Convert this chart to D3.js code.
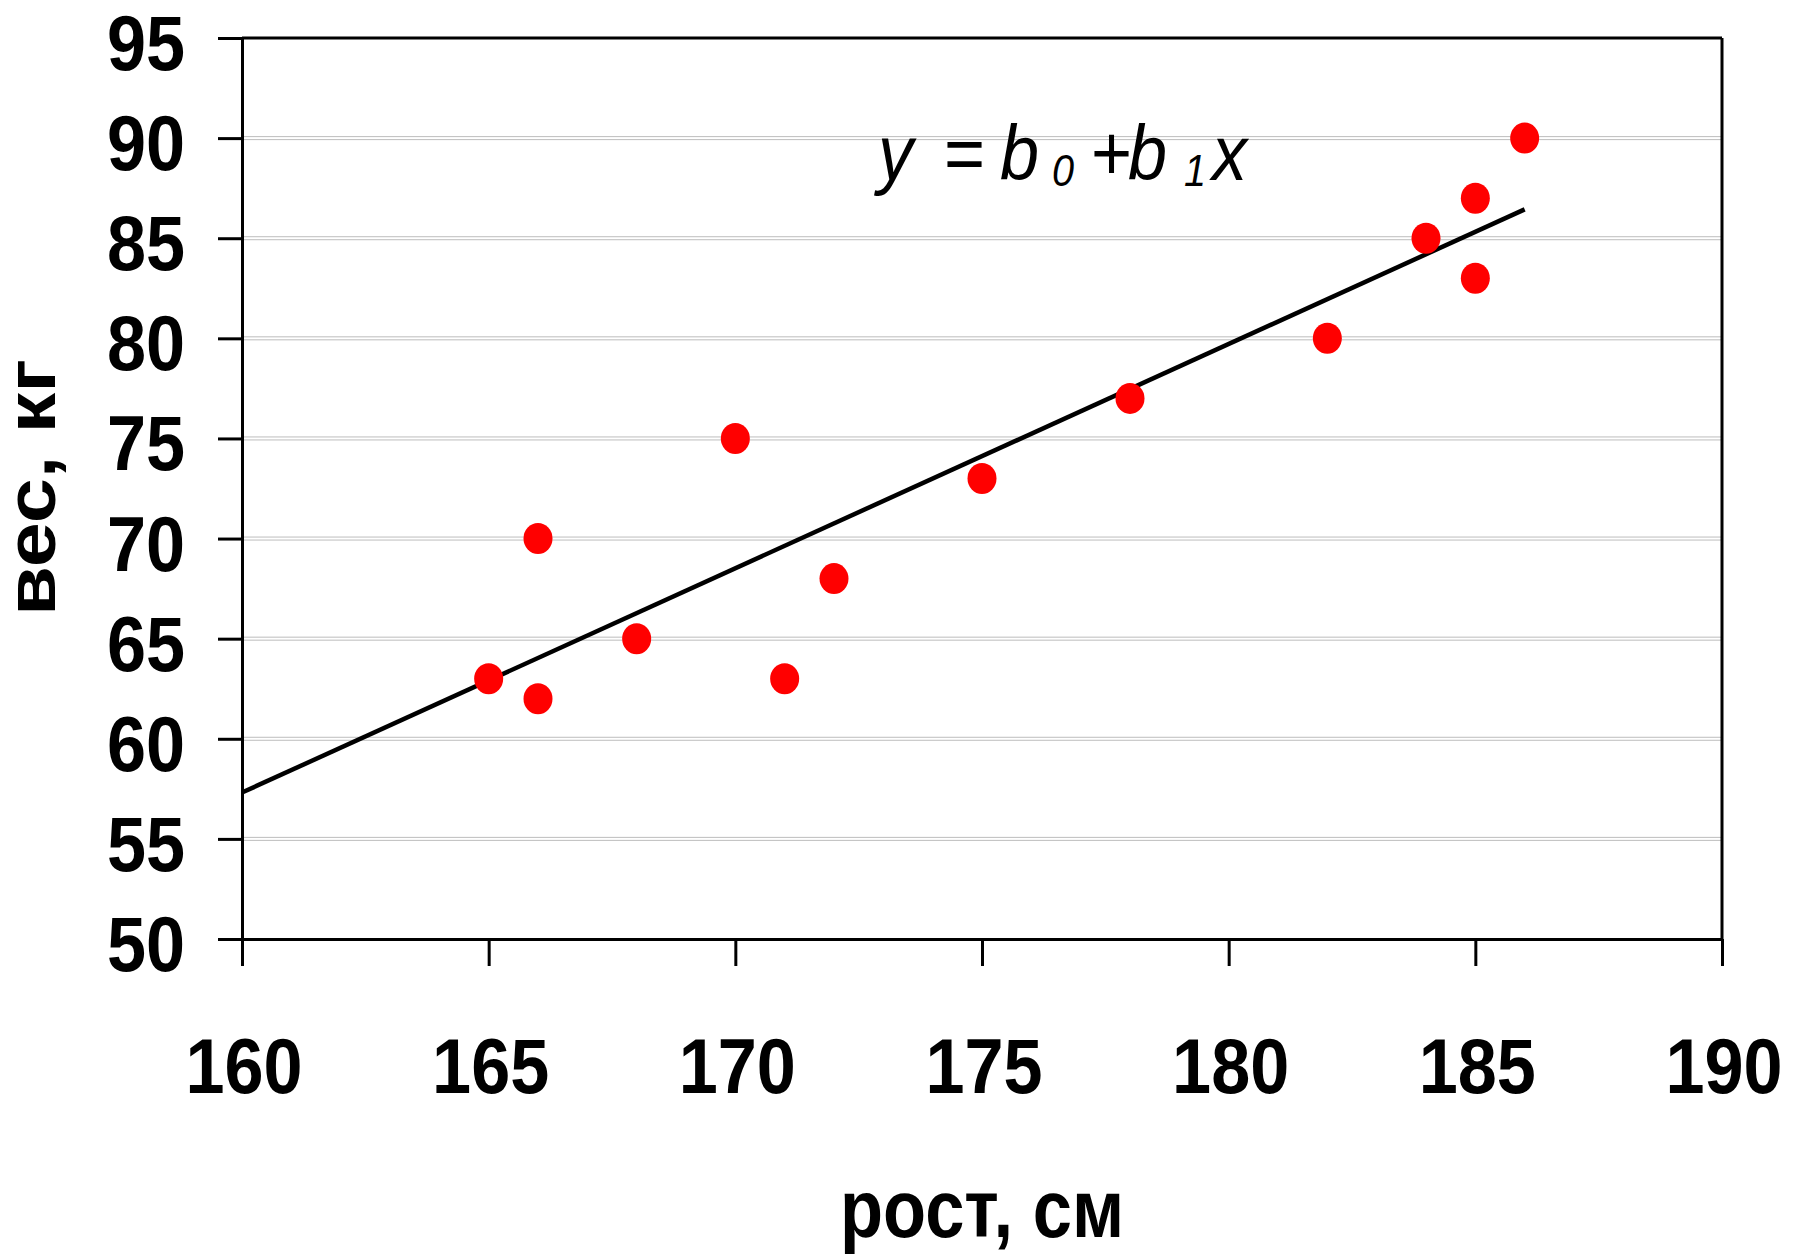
<!DOCTYPE html>
<html>
<head>
<meta charset="utf-8">
<script src="https://cdn.jsdelivr.net/npm/d3@7"></script>
<style>
  html, body { margin: 0; padding: 0; background: #fff; }
  svg { display: block; }
  text { font-family: "Liberation Sans", Arial, sans-serif; fill: #000; }
</style>
</head>
<body>
<script>
// ---- data ----
const heights = [165, 166, 166, 168, 170, 171, 172, 175, 178, 182, 184, 185, 185, 186];
const weights = [63, 62, 70, 65, 75, 63, 68, 73, 77, 80, 85, 87, 83, 90];
const xTicks = [160, 165, 170, 175, 180, 185, 190];
const yTicks = [50, 55, 60, 65, 70, 75, 80, 85, 90, 95];
const xTitle = "рост, см";
const yTitle = "вес, кг";

(function () {
const W = 1793, H = 1254;
const pL = 242, pR = 1722, pT = 38, pB = 939;
const sx = 0.9; // horizontal squash of the glyphs in the reference

const svg = d3.select("body").append("svg").attr("width", W).attr("height", H);

const x = d3.scaleLinear().domain([160, 190]).range([pL, pR]);
const y = d3.scaleLinear().domain([50, 95]).range([pB, pT]);

// gridlines (double light gray)
const grid = svg.append("g");
yTicks.filter(v => v > 50 && v < 95).forEach(v => {
  [-1.5, 1.5].forEach(off => {
    grid.append("line")
      .attr("x1", pL).attr("x2", pR)
      .attr("y1", y(v) + off).attr("y2", y(v) + off)
      .attr("stroke", "#bdbdbd").attr("stroke-width", 1);
  });
});

// frame top & right
svg.append("line").attr("x1", pL).attr("x2", pR).attr("y1", pT).attr("y2", pT)
  .attr("stroke", "#000").attr("stroke-width", 3);
svg.append("line").attr("x1", pR).attr("x2", pR).attr("y1", pT).attr("y2", pB)
  .attr("stroke", "#000").attr("stroke-width", 3);

// axes
const yAxis = svg.append("g").attr("transform", `translate(${pL},0)`)
  .call(d3.axisLeft(y).tickValues(yTicks).tickSize(24).tickSizeOuter(0).tickFormat(""));
const xAxis = svg.append("g").attr("transform", `translate(0,${pB})`)
  .call(d3.axisBottom(x).tickValues(xTicks).tickSize(27).tickSizeOuter(0).tickFormat(""));
[yAxis, xAxis].forEach(g => {
  g.select(".domain").attr("stroke", "#000").attr("stroke-width", 3);
  g.selectAll(".tick line").attr("stroke", "#000").attr("stroke-width", 3);
});

// tick labels
svg.append("g").selectAll("text").data(yTicks).join("text")
  .attr("transform", d => `translate(185,${y(d) + 32}) scale(${sx},1)`)
  .attr("text-anchor", "end")
  .attr("font-size", 78).attr("font-weight", "bold")
  .text(d => d);
svg.append("g").selectAll("text").data(xTicks).join("text")
  .attr("transform", d => `translate(${x(d) + 2},1093) scale(${sx},1)`)
  .attr("text-anchor", "middle")
  .attr("font-size", 78).attr("font-weight", "bold")
  .text(d => d);

// axis titles
svg.append("text")
  .attr("transform", `translate(${(pL + pR) / 2},1237) scale(0.87,1)`)
  .attr("text-anchor", "middle")
  .attr("font-size", 81).attr("font-weight", "bold")
  .text(xTitle);
svg.append("text")
  .attr("transform", `translate(55,${(363 + 612) / 2}) rotate(-90) scale(1,0.87)`)
  .attr("text-anchor", "middle")
  .attr("font-size", 81).attr("font-weight", "bold")
  .text(yTitle);

// regression line (least squares from the data)
const mx = d3.mean(heights), my = d3.mean(weights);
const sxy = d3.sum(heights, (h, i) => (h - mx) * (weights[i] - my));
const sxx = d3.sum(heights, h => (h - mx) * (h - mx));
const b1 = sxy / sxx, b0 = my - b1 * mx;
const xs = [160, d3.max(heights)];
svg.append("path")
  .attr("d", d3.line().x(d => x(d)).y(d => y(b0 + b1 * d))(xs))
  .attr("stroke", "#000").attr("stroke-width", 4.5).attr("fill", "none");

// points
svg.append("g").selectAll("ellipse").data(heights).join("ellipse")
  .attr("cx", d => x(d))
  .attr("cy", (d, i) => y(weights[i]))
  .attr("rx", 14.5).attr("ry", 15.5)
  .attr("fill", "#f00");

// equation
const eq = svg.append("text")
  .attr("transform", `translate(878,180) scale(${sx},1)`)
  .attr("font-size", 78).attr("font-style", "italic");
const parts = [
  { t: "y", x: 878, dy: 0, fs: 78 },
  { t: "=", x: 943, dy: 0, fs: 78 },
  { t: "b", x: 1000, dy: 0, fs: 78 },
  { t: "0", x: 1052, dy: 6, fs: 44 },
  { t: "+", x: 1090, dy: 0, fs: 78 },
  { t: "b", x: 1128, dy: 0, fs: 78 },
  { t: "1", x: 1184, dy: 6, fs: 44 },
  { t: "x", x: 1212, dy: 0, fs: 78 }
];
parts.forEach(p => {
  eq.append("tspan")
    .attr("x", (p.x - 878) / sx)
    .attr("y", p.dy)
    .attr("font-size", p.fs)
    .text(p.t);
});
})();
</script>
</body>
</html>
